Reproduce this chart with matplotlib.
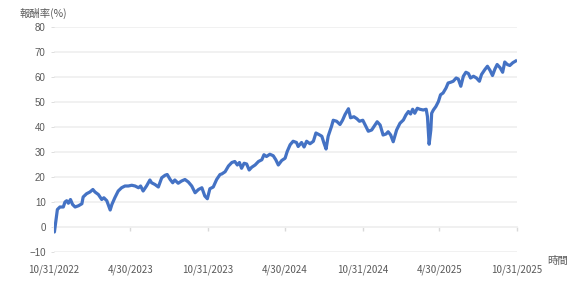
import pandas as pd
import matplotlib
matplotlib.use('Agg')
import matplotlib.pyplot as plt

plt.rcParams['font.family'] = ['Noto Sans CJK TC', 'DejaVu Sans']

start = pd.Timestamp('2022-10-31')

# days after 10/31/2022 and cumulative return (%)
day = [0, 1, 5, 8, 14, 22, 26, 30, 34, 39, 44, 50, 58, 66, 69, 77, 85, 92, 97,
       105, 113, 118, 125, 133, 137, 144, 152, 160, 168, 176, 184, 192, 200,
       205, 211, 219, 227, 231, 239, 247, 255, 263, 268, 275, 281, 286, 294,
       302, 310, 318, 326, 334, 342, 350, 357, 363, 369, 377, 385, 393, 397,
       405, 413, 421, 428, 434, 439, 444, 450, 456, 462, 468, 476, 484, 492,
       497, 503, 511, 519, 525, 531, 539, 547, 552, 559, 566, 574, 578, 586,
       592, 598, 606, 614, 620, 628, 634, 639, 644, 649, 657, 661, 669, 677,
       683, 689, 697, 702, 710, 717, 723, 731, 736, 744, 752, 760, 765, 772,
       779, 786, 791, 797, 803, 811, 819, 827, 833, 839, 844, 849, 854, 860,
       866, 874, 881, 884, 887, 888, 892, 894, 898, 904, 910, 915, 921, 928,
       933, 939, 945, 952, 957, 963, 969, 975, 981, 986, 993, 1000, 1007,
       1012, 1020, 1026, 1032, 1038, 1044, 1049, 1056, 1062, 1067, 1073,
       1079, 1086, 1093]
ret = [0, -2, 3, 7, 8, 8, 10, 10.5, 9.5, 11, 9, 8, 8.5, 9.3, 12, 13.3, 14, 15,
       14, 13, 11, 11.7, 10.5, 6.8, 9, 11.7, 14.4, 15.7, 16.4, 16.4, 16.7,
       16.4, 15.7, 16.4, 14.4, 16.4, 18.8, 17.7, 17, 16, 19.7, 20.7, 21, 19,
       17.7, 18.8, 17.5, 18.4, 19, 18, 16.4, 13.7, 15, 15.7, 12.4, 11.3, 15.3,
       16, 19, 21, 21.2, 22.1, 24.4, 25.8, 26.2, 24.8, 25.8, 23.5, 25.5, 25.2,
       22.8, 23.9, 24.8, 26.2, 26.9, 28.9, 28.2, 29.1, 28.5, 26.9, 24.8, 26.6,
       27.5, 30.2, 32.9, 34.3, 33.8, 32.2, 33.8, 32, 34.3, 33.3, 34.3, 37.6,
       36.9, 36.3, 33.6, 31.2, 36.3, 40.3, 42.7, 42.3, 41, 42.7, 45, 47.3,
       43.7, 44.1, 43.3, 42.3, 42.7, 41, 38.3, 38.8, 40.8, 42.1, 40.8, 36.8,
       37.2, 38.1, 36.8, 34.1, 38.8, 41.5, 42.8, 44.8, 46.2, 45.2, 47.1, 45.5,
       47.5, 47.1, 46.8, 47.1, 44.2, 36.1, 33.1, 38.8, 45.5, 46.8, 48.2, 50.2,
       52.9, 53.6, 55.6, 57.6, 57.9, 58.3, 59.6, 59.2, 56.3, 60.3, 61.9, 61.4,
       59.6, 60.3, 59.6, 58.3, 61, 63, 64.3, 62.7, 60.6, 63.3, 65, 63.7, 61.9,
       66, 65, 64.6, 65.7, 66.4]

tick_dates = ['2022-10-31', '2023-04-30', '2023-10-31', '2024-04-30',
              '2024-10-31', '2025-04-30', '2025-10-31']
tick_labels = ['10/31/2022', '4/30/2023', '10/31/2023', '4/30/2024',
               '10/31/2024', '4/30/2025', '10/31/2025']
yticks = list(range(-10, 81, 10))

dates = [start + pd.Timedelta(days=d) for d in day]
tdates = pd.to_datetime(tick_dates)

fig = plt.figure(figsize=(5.78, 2.89), dpi=100)
ax = fig.add_axes([54 / 578, 1 - 252 / 289, 463 / 578, 225 / 289])

for y in yticks:
    ax.axhline(y, color='#f0f0f0', lw=1.3, zorder=0)

ax.plot(dates, ret, color='#4472c4', lw=2.3, solid_joinstyle='round', zorder=3)

ax.set_xlim(tdates[0], tdates[-1])
ax.set_ylim(-10, 80)
ax.set_yticks(yticks)
ax.set_xticks(tdates)
ax.set_xticklabels(tick_labels)
ax.tick_params(axis='x', length=3, color='#d9d9d9', pad=24, width=1,
               labelsize=7, labelcolor='#595959')
ax.tick_params(axis='y', length=2, color='#d9d9d9', pad=4, width=0.6,
               labelsize=7, labelcolor='#595959')
for lab in ax.get_xticklabels():
    lab.set_fontfamily('Lato')
for lab in ax.get_yticklabels():
    lab.set_fontfamily('Liberation Sans')

for s in ['top', 'right', 'left']:
    ax.spines[s].set_visible(False)
ax.spines['bottom'].set_position(('data', 0))
ax.spines['bottom'].set_color('#f0f0f0')
ax.spines['bottom'].set_linewidth(1.3)

fig.text(20 / 578, 1 - 13 / 289, '報酬率(%)', fontsize=7.5, color='#595959',
         va='center', ha='left')
fig.text(547 / 578, 1 - 261 / 289, '時間', fontsize=7.5, color='#595959',
         va='center', ha='left')

fig.savefig('out.png', dpi=100)
